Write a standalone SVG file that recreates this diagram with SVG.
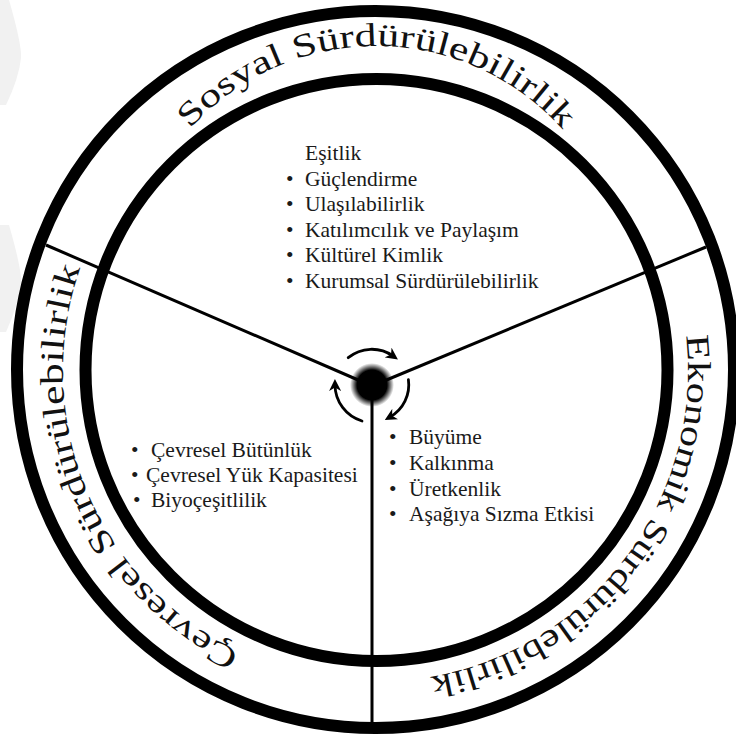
<svg xmlns="http://www.w3.org/2000/svg" width="736" height="738" viewBox="0 0 736 738">
<defs>
<style>
.ring{fill:none;stroke:#000;stroke-width:12}
.spoke{stroke:#000;stroke-width:3;fill:none}
.arc{font-family:"Liberation Serif","Times New Roman",serif;font-size:33px;fill:#111}
.item{font-family:"Liberation Serif","Times New Roman",serif;font-size:21.5px;fill:#1a1a1a}
.rot{fill:none;stroke:#000;stroke-width:2.8;stroke-linecap:round}
.wm{fill:#f1f1f1}
</style>
<radialGradient id="hubg" cx="0.5" cy="0.5" r="0.5">
<stop offset="0" stop-color="#000"/>
<stop offset="0.68" stop-color="#000"/>
<stop offset="1" stop-color="#000" stop-opacity="0"/>
</radialGradient>
<marker id="ah" viewBox="0 0 10 10" refX="5" refY="5" markerWidth="12" markerHeight="12" markerUnits="userSpaceOnUse" orient="auto">
<path d="M0,0 L10,5 L0,10 L3,5 Z" fill="#000"/>
</marker>
<path id="pTop" d="M190,129 A250,250 0 0,1 562,129"/>
<path id="pRight" d="M686,335.3 A311,311 0 0,1 430,677"/>
<path id="pLeft" d="M239.7,652 A312,312 0 0,1 80,268.8"/>
</defs>
<rect width="736" height="738" fill="#fff"/>
<path class="wm" d="M0,0 L9,0 Q22,45 21,58 Q19,78 6,105 L0,105 Z"/>
<path class="wm" d="M0,225 L9,225 Q22,270 21,283 Q19,303 6,332 L0,332 Z"/>
<g id="rings">
<circle class="ring" cx="375.5" cy="369.5" r="358.5"/>
<circle class="ring" cx="376.5" cy="370" r="291"/>
</g>
<g id="connectors">
<line class="spoke" x1="372" y1="386" x2="46" y2="245"/>
<line class="spoke" x1="372" y1="386" x2="706" y2="247"/>
<line class="spoke" x1="372" y1="386" x2="372" y2="728"/>
<path class="rot" d="M348.2,357.7 A37,37 0 0,1 393,356" marker-end="url(#ah)"/>
<path class="rot" d="M408.4,379.6 A37,37 0 0,1 390,417" marker-end="url(#ah)"/>
<path class="rot" d="M362,421 A38,38 0 0,1 335,385" marker-end="url(#ah)"/>
</g>
<g id="hub">
<circle cx="372" cy="385" r="22" fill="url(#hubg)"/>
</g>
<g id="sosyal">
<text class="arc"><textPath href="#pTop" textLength="116.9" lengthAdjust="spacingAndGlyphs">Sosyal</textPath></text>
<text class="arc"><textPath href="#pTop" startOffset="127.8" textLength="292.2" lengthAdjust="spacingAndGlyphs">Sürdürülebilirlik</textPath></text>
<text class="item" x="305" y="160">Eşitlik</text>
<text class="item" y="185.5"><tspan x="286">•</tspan><tspan x="305">Güçlendirme</tspan></text>
<text class="item" y="211"><tspan x="286">•</tspan><tspan x="305">Ulaşılabilirlik</tspan></text>
<text class="item" y="236.5"><tspan x="286">•</tspan><tspan x="305">Katılımcılık ve Paylaşım</tspan></text>
<text class="item" y="262"><tspan x="286">•</tspan><tspan x="305">Kültürel Kimlik</tspan></text>
<text class="item" y="287.5"><tspan x="286">•</tspan><tspan x="305">Kurumsal Sürdürülebilirlik</tspan></text>
</g>
<g id="ekonomik">
<text class="arc"><textPath href="#pRight" textLength="176.7" lengthAdjust="spacingAndGlyphs">Ekonomik</textPath></text>
<text class="arc"><textPath href="#pRight" startOffset="187.3" textLength="282.7" lengthAdjust="spacingAndGlyphs">Sürdürülebilirlik</textPath></text>
<text class="item" y="444"><tspan x="389">•</tspan><tspan x="409">Büyüme</tspan></text>
<text class="item" y="469.5"><tspan x="389">•</tspan><tspan x="409">Kalkınma</tspan></text>
<text class="item" y="495.5"><tspan x="389">•</tspan><tspan x="409">Üretkenlik</tspan></text>
<text class="item" y="521"><tspan x="389">•</tspan><tspan x="409">Aşağıya Sızma Etkisi</tspan></text>
</g>
<g id="cevresel">
<text class="arc"><textPath href="#pLeft" textLength="152.9" lengthAdjust="spacingAndGlyphs">Çevresel</textPath></text>
<text class="arc"><textPath href="#pLeft" startOffset="163.8" textLength="291.2" lengthAdjust="spacingAndGlyphs">Sürdürülebilirlik</textPath></text>
<text class="item" y="457"><tspan x="131">•</tspan><tspan x="151">Çevresel Bütünlük</tspan></text>
<text class="item" y="482"><tspan x="131">•</tspan><tspan x="146">Çevresel Yük Kapasitesi</tspan></text>
<text class="item" y="507"><tspan x="133">•</tspan><tspan x="151">Biyoçeşitlilik</tspan></text>
</g>
</svg>
